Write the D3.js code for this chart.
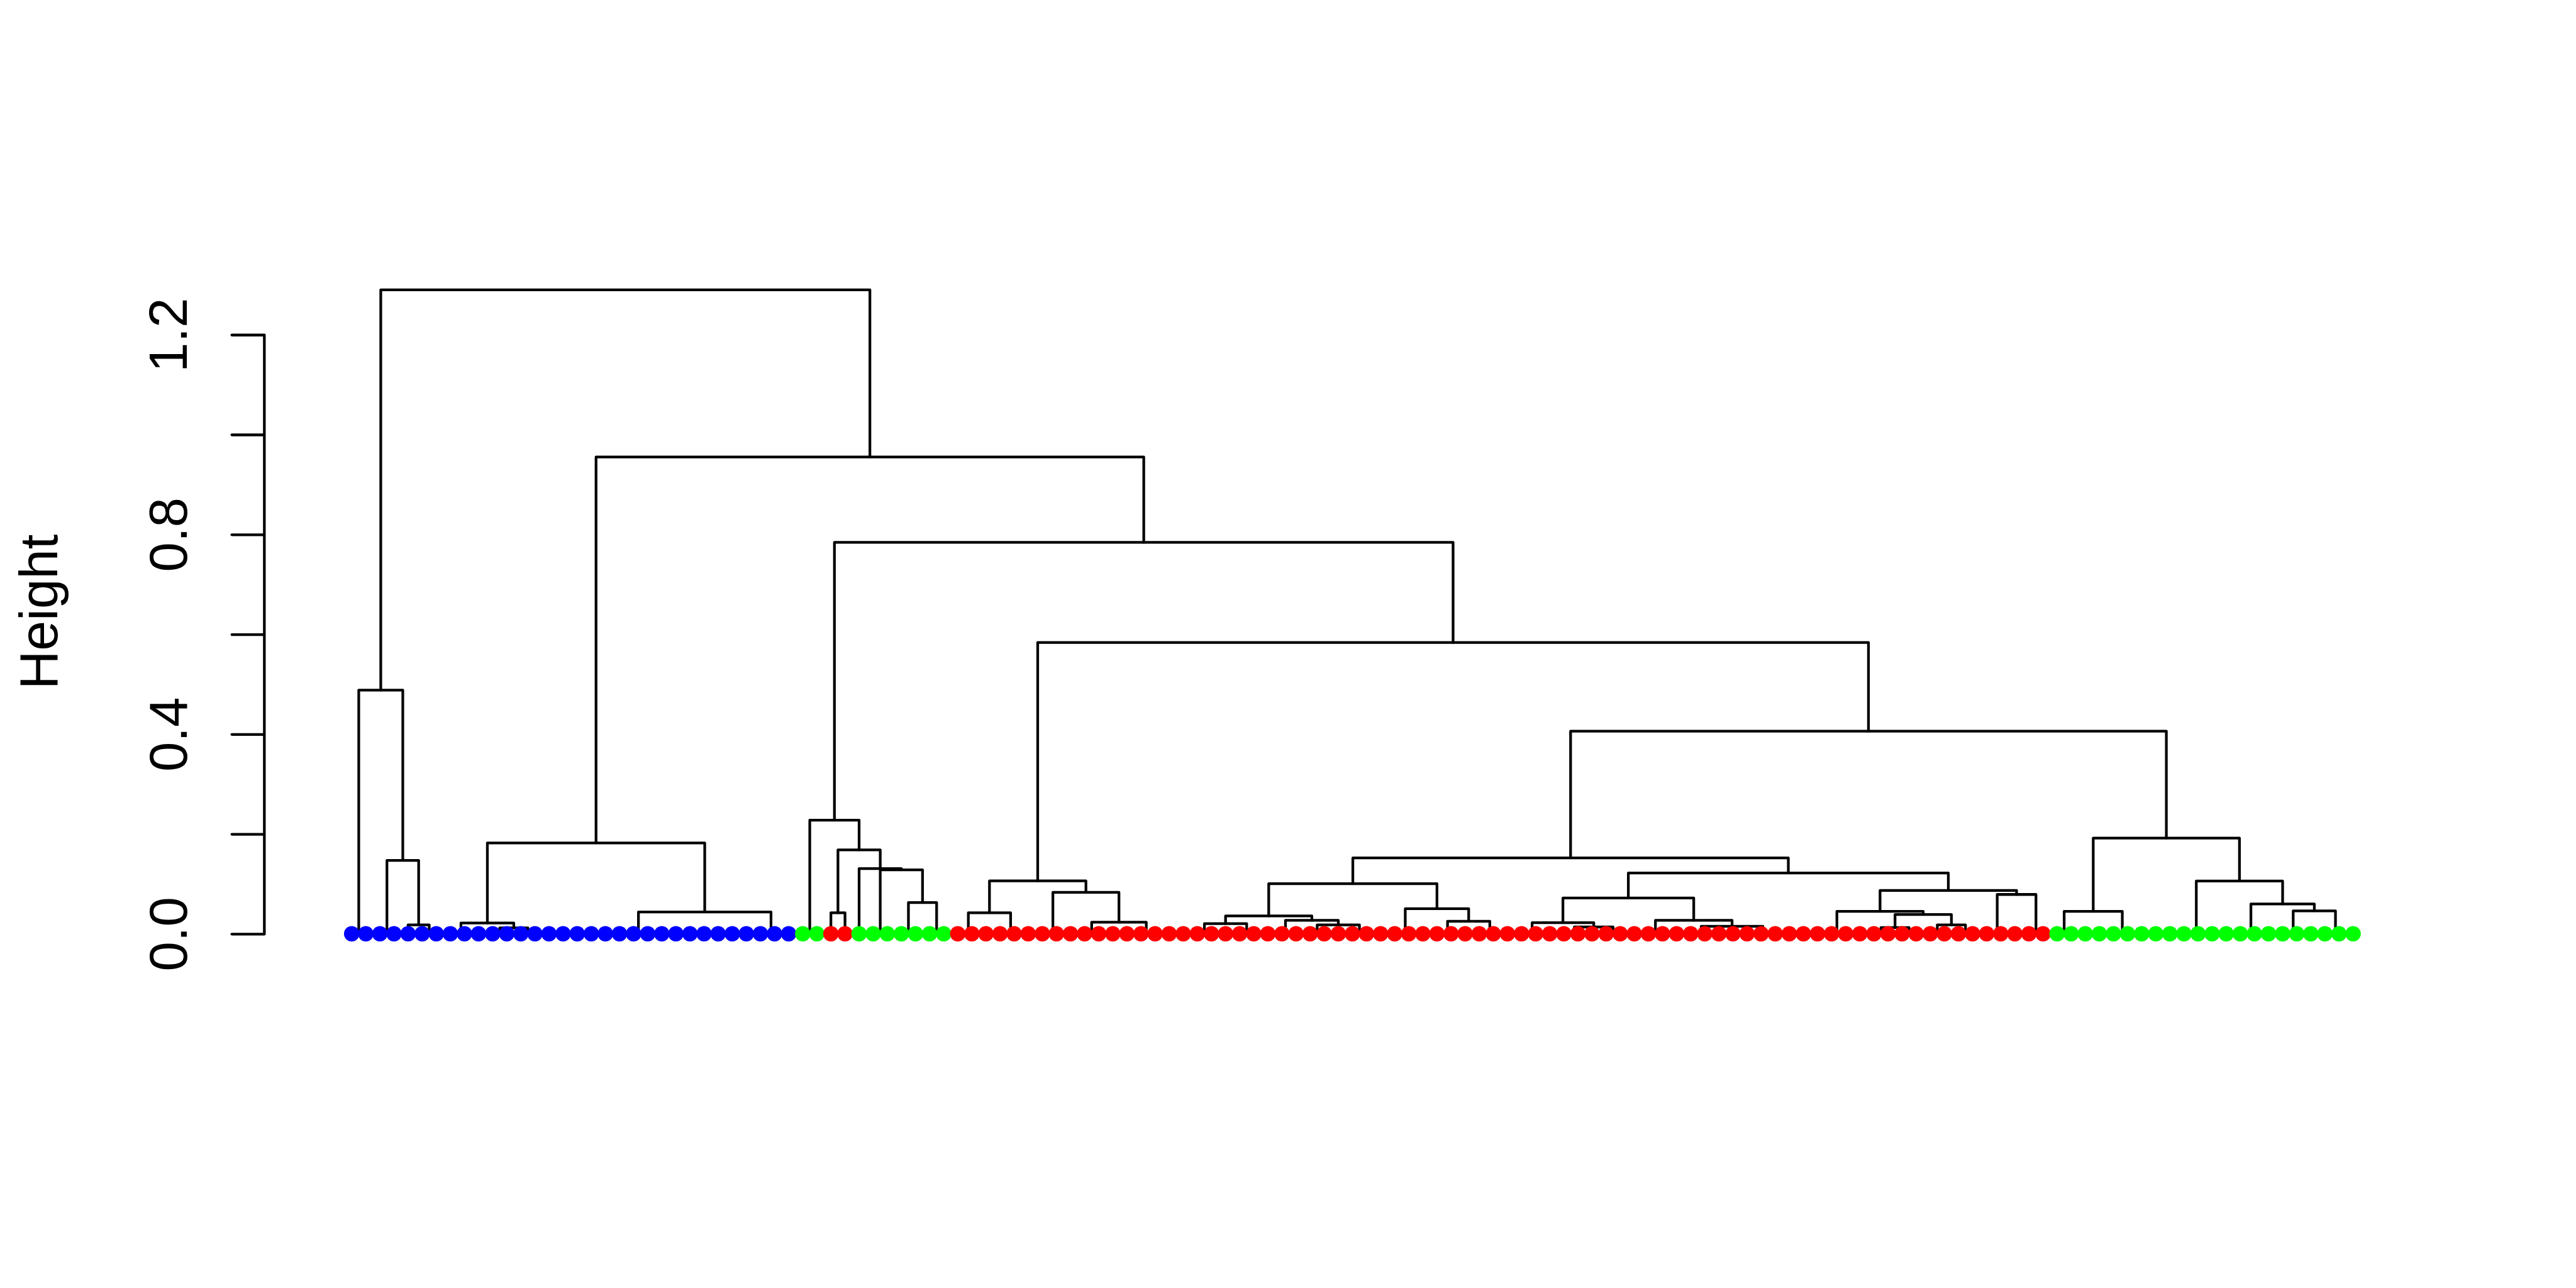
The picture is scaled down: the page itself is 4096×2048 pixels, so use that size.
<!DOCTYPE html>
<html><head><meta charset="utf-8">
<script src="https://cdn.jsdelivr.net/npm/d3@7"></script>
<style>html,body{margin:0;padding:0;background:#fff;} svg{display:block;}</style>
</head><body>
<svg id="chart" width="4096" height="2048"></svg>
<script>
// ---- data ----
const groupColors = ["#0000FF", "#00FF00", "#FF0000", "#00FF00", "#FF0000", "#00FF00"];
const groupCounts = [32, 2, 2, 7, 78, 22];
const yTicks = [0, 0.2, 0.4, 0.6, 0.8, 1.0, 1.2];
const yTickLabels = ["0.0", "", "0.4", "", "0.8", "", "1.2"];
const yLabel = "Height";
// subtrees: [mergeHeight, left, right]; integers are leaves in plotting order
const treeBlueA = [0.488, [0.001, 0, 1], [0.147, [0.001, 2, 3], [0.018, 4, [0.001, 5, 6]]]];
const treeBlueB = [0.182,
  [0.0215, [0.001, 7, [0.001, 8, 9]], [0.012, [0.001, 10, 11], [0.001, 12, 13]]],
  [0.0437,
    [0.001, [0.001, [0.001, 14, [0.001, 15, 16]], [0.001, [0.001, 17, 18], 19]],
            [0.001, [0.001, [0.001, 20, 21], [0.001, [0.001, 22, 23], 24]], [0.001, [0.001, 25, 26], [0.001, 27, 28]]]],
    [0.001, 29, [0.001, 30, 31]]]];
const treeGreenA = [0.2275, [0.001, 32, 33],
  [0.168, [0.042, 34, 35], [0.1307, 36, [0.128, [0.001, 37, 38], [0.0627, [0.001, 39, 40], [0.001, 41, 42]]]]]];
const treeRedA = [0.106,
  [0.0422, [0.001, 43, [0.001, 44, 45]], [0.001, 46, [0.001, 47, 48]]],
  [0.083, [0.001, 49, [0.001, 50, 51]],
          [0.0233, [0.001, 52, 53], [0.001, [0.001, [0.001, 54, 55], 56], [0.001, 57, 58]]]]];
const treeRedB = [0.1003,
  [0.0358,
    [0.0204, [0.001, [0.001, 59, 60], [0.001, 61, 62]], [0.001, 63, 64]],
    [0.0269, [0.001, [0.001, 65, 66], 67],
             [0.018, [0.001, 68, 69], [0.001, [0.001, 70, 71], [0.001, 72, 73]]]]],
  [0.0502, [0.001, 74, [0.001, 75, 76]],
           [0.025, [0.001, 77, [0.001, 78, 79]], [0.001, 80, [0.001, 81, 82]]]]];
const treeRedC = [0.0716,
  [0.0222, [0.001, 83, [0.001, 84, 85]],
           [0.0136, [0.001, 86, [0.001, 87, 88]], [0.001, 89, 90]]],
  [0.0269, [0.001, [0.001, 91, 92], [0.001, 93, 94]],
           [0.015, [0.001, 95, [0.001, 96, 97]], [0.001, [0.001, 98, [0.001, 99, 100]], [0.001, 101, 102]]]]];
const treeRedD = [0.0867,
  [0.0448, [0.001, [0.001, [0.001, 103, 104], 105], [0.001, 106, 107]],
           [0.0387, [0.0125, [0.001, 108, 109], [0.001, 110, 111]],
                    [0.018, [0.001, 112, 113], [0.001, 114, 115]]]],
  [0.0788, [0.001, 116, [0.001, 117, 118]], [0.001, 119, 120]]];
const treeGreenB = [0.1916,
  [0.0448, [0.001, 121, 122], [0.001, [0.001, 123, [0.001, 124, 125]], [0.001, [0.001, 126, 127], [0.001, 128, 129]]]],
  [0.1056, [0.001, 130, [0.001, 131, [0.001, 132, 133]]],
           [0.0598, [0.001, 134, [0.001, 135, 136]],
                    [0.0459, [0.001, 137, [0.001, 138, 139]], [0.001, 140, [0.001, 141, 142]]]]]];
const treeTop = [1.290, treeBlueA,
  [0.955, treeBlueB,
    [0.784, treeGreenA,
      [0.5835, treeRedA,
        [0.406, [0.152, treeRedB, [0.1217, treeRedC, treeRedD]], treeGreenB]]]]];

// ---- layout ----
const S = 4096 / 4800;
const FONT = "'Liberation Sans', Arial, Helvetica, sans-serif";
const plot = {left: 492 * S, right: 4548 * S, top: 492 * S, bottom: 1788 * S};
const lw = 5 * S;

const leafColor = [];
groupCounts.forEach((c, g) => { for (let k = 0; k < c; k++) leafColor.push(groupColors[g]); });
const n = leafColor.length;

function toNode(d) {
  if (typeof d === "number") return {leaf: d, h: 0};
  return {h: d[0], children: [toNode(d[1]), toNode(d[2])]};
}
const root = d3.hierarchy(toNode(treeTop));
d3.cluster().size([n, 1]).separation(() => 1)(root);

const topH = root.data.h;
const x = d3.scaleLinear().domain([-0.04 * n, n + 0.04 * n]).range([plot.left, plot.right]);
const y = d3.scaleLinear().domain([-0.04 * topH, topH * 1.04]).range([plot.bottom, plot.top]);

const svg = d3.select("#chart");
svg.append("rect").attr("width", 4096).attr("height", 2048).attr("fill", "#fff");

// tree brackets
const gTree = svg.append("g")
  .attr("fill", "none").attr("stroke", "#000").attr("stroke-width", lw)
  .attr("stroke-linecap", "round").attr("stroke-linejoin", "round");
gTree.selectAll("path")
  .data(root.descendants().filter(d => d.children))
  .join("path")
  .attr("d", d => {
    const [a, b] = d.children;
    return `M${x(a.x)},${y(a.data.h)}V${y(d.data.h)}H${x(b.x)}V${y(b.data.h)}`;
  });

// leaf dots
svg.append("g").selectAll("circle")
  .data(root.leaves())
  .join("circle")
  .attr("cx", d => x(d.x))
  .attr("cy", y(0))
  .attr("r", 14.4 * S)
  .attr("fill", d => leafColor[d.data.leaf]);

// y axis
const yAxisScale = y.copy().domain([0, 1.2]).range([y(0), y(1.2)]);
const gAxis = svg.append("g")
  .attr("transform", `translate(${plot.left},0)`)
  .call(d3.axisLeft(yAxisScale)
    .tickValues(yTicks)
    .tickSizeInner(60 * S).tickSizeOuter(0)
    .tickFormat((d, i) => yTickLabels[i]));
gAxis.select(".domain").attr("stroke", "#000").attr("stroke-width", lw).attr("stroke-linecap", "round");
gAxis.selectAll(".tick line").attr("stroke", "#000").attr("stroke-width", lw).attr("stroke-linecap", "round");
gAxis.selectAll(".tick text")
  .attr("x", null).attr("y", null).attr("dy", null)
  .attr("transform", `translate(${(347.5 - 492) * S},0) rotate(-90)`)
  .attr("text-anchor", "middle")
  .attr("fill", "#000")
  .style("font-family", FONT)
  .style("font-size", `${100 * S}px`);

// y label
svg.append("text")
  .attr("transform", `translate(${107 * S},${(plot.top + plot.bottom) / 2}) rotate(-90)`)
  .attr("text-anchor", "middle")
  .style("font-family", FONT)
  .style("font-size", `${100 * S}px`)
  .attr("fill", "#000")
  .text(yLabel);
</script>
</body></html>
